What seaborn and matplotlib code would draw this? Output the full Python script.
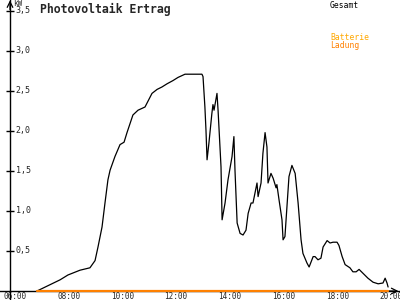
import matplotlib
matplotlib.use("Agg")
import matplotlib.pyplot as plt
import seaborn as sns
import pandas as pd

# --- data -------------------------------------------------------------
pv_hours = [6.82, 7.68, 7.97, 8.42, 8.79, 8.98, 9.09, 9.24, 9.35, 9.46,
            9.54, 9.72, 9.91, 10.06, 10.17, 10.39, 10.58, 10.84, 11.10, 11.29,
            11.47, 11.66, 11.88, 12.07, 12.33, 12.59, 12.89, 12.96, 13.00, 13.07,
            13.11, 13.15, 13.22, 13.33, 13.37, 13.41, 13.52, 13.56, 13.67, 13.71,
            13.82, 13.93, 14.08, 14.15, 14.19, 14.27, 14.38, 14.49, 14.60, 14.68,
            14.79, 14.86, 15.01, 15.05, 15.16, 15.23, 15.31, 15.38, 15.42, 15.53,
            15.61, 15.72, 15.75, 15.83, 15.94, 15.98, 16.05, 16.13, 16.20, 16.31,
            16.43, 16.54, 16.65, 16.72, 16.87, 16.95, 17.10, 17.17, 17.28, 17.39,
            17.47, 17.62, 17.73, 17.84, 17.99, 18.06, 18.18, 18.29, 18.47, 18.58,
            18.70, 18.81, 18.96, 19.14, 19.33, 19.52, 19.70, 19.78, 19.85, 19.89]
pv_kw = [0.00, 0.14, 0.20, 0.26, 0.29, 0.38, 0.55, 0.80, 1.10, 1.39,
         1.51, 1.68, 1.83, 1.86, 1.98, 2.20, 2.26, 2.30, 2.47, 2.52,
         2.55, 2.59, 2.63, 2.67, 2.71, 2.71, 2.71, 2.71, 2.68, 2.30,
         2.01, 1.64, 1.85, 2.22, 2.33, 2.26, 2.47, 2.26, 1.55, 0.89,
         1.10, 1.39, 1.68, 1.93, 1.51, 0.85, 0.72, 0.70, 0.76, 0.97,
         1.10, 1.10, 1.35, 1.18, 1.35, 1.72, 1.98, 1.80, 1.35, 1.47,
         1.41, 1.29, 1.33, 1.14, 0.89, 0.64, 0.68, 1.08, 1.43, 1.57,
         1.47, 1.10, 0.64, 0.47, 0.35, 0.30, 0.43, 0.43, 0.39, 0.41,
         0.55, 0.63, 0.60, 0.61, 0.61, 0.57, 0.43, 0.33, 0.29, 0.24,
         0.24, 0.27, 0.22, 0.16, 0.11, 0.09, 0.10, 0.16, 0.10, 0.05]
battery_hours = [6.82, 19.89]
battery_kw = [0.0, 0.0]

x_ticks = [6, 8, 10, 12, 14, 16, 18, 20]
x_tick_labels = ["06:00", "08:00", "10:00", "12:00", "14:00", "16:00", "18:00", "20:00"]
y_ticks = [0.5, 1.0, 1.5, 2.0, 2.5, 3.0, 3.5]
y_tick_labels = ["0,5", "1,0", "1,5", "2,0", "2,5", "3,0", "3,5"]

title = "Photovoltaik Ertrag"
unit = "kW"
legend_total = "Gesamt"
legend_batt1 = "Batterie"
legend_batt2 = "Ladung"

# --- style ------------------------------------------------------------
sns.set_style("white")
plt.rcParams["font.family"] = ["DejaVu Sans Mono", "DejaVu Sans"]
MONO = "DejaVu Sans Mono"
ORANGE = "#FF8000"
ORANGE_LIGHT = "#FFA800"

fig = plt.figure(figsize=(4, 3), dpi=100)
ax = fig.add_axes([0, 0, 1, 1])

pv = pd.DataFrame({"h": pv_hours, "kw": pv_kw})
bat = pd.DataFrame({"h": battery_hours, "kw": battery_kw})

sns.lineplot(data=pv, x="h", y="kw", ax=ax, color="black", lw=0.9, zorder=3)
sns.lineplot(data=bat, x="h", y="kw", ax=ax, color=ORANGE, lw=1.6, zorder=4)

# pixel geometry: 26.86 px per hour (06:00 at px 15), 80 px per kW (0 at px 291)
ax.set_xlim(6 - 15 / 26.86, 6 + 385 / 26.86)
ax.set_ylim(-9 / 80, 291 / 80)
y_axis_x = 6 - 5 / 26.86

for s in ["left", "top"]:
    ax.spines[s].set_visible(False)
ax.spines["right"].set_position(("data", y_axis_x))
ax.spines["bottom"].set_position(("data", 0))
for s in ["right", "bottom"]:
    ax.spines[s].set_color("black")
    ax.spines[s].set_linewidth(1.0)
ax.yaxis.tick_right()

ax.set_xticks(x_ticks)
ax.set_xticklabels(x_tick_labels, fontfamily=MONO, fontsize=5.5)
ax.set_yticks(y_ticks)
ax.set_yticklabels(y_tick_labels, fontfamily=MONO, fontsize=6)
ax.tick_params(axis="y", direction="inout", length=6, width=1, color="black", pad=1)
ax.tick_params(axis="x", direction="inout", length=5, width=1, color="black", pad=-2)
for lab in ax.get_yticklabels():
    lab.set_verticalalignment("center")
ax.set_xlabel("")
ax.set_ylabel("")
ax.grid(False)

# axis arrows
ymax = ax.get_ylim()[1]
xmax = ax.get_xlim()[1]
ax.annotate("", xy=(y_axis_x, ymax - 0.005), xytext=(y_axis_x, ymax - 0.12),
            arrowprops=dict(arrowstyle="->", lw=0.9, color="black", shrinkA=0, shrinkB=0))
ax.annotate("", xy=(xmax - 0.06, 0), xytext=(xmax - 0.4, 0),
            arrowprops=dict(arrowstyle="->", lw=0.9, color="black", shrinkA=0, shrinkB=0))

# texts
fig.text(13 / 400, 1 - 4 / 300, unit, fontfamily=MONO, fontsize=5.5, va="center", ha="left")
fig.text(40 / 400, 1 - 9 / 300, title, fontfamily=MONO, fontsize=8.3, fontweight="bold",
         va="center", ha="left")
fig.text(330 / 400, 1 - 5 / 300, legend_total, fontfamily=MONO, fontsize=5.8, va="center",
         ha="left", color="black")
fig.text(330 / 400, 1 - 37 / 300, legend_batt1, fontfamily=MONO, fontsize=5.8, va="center",
         ha="left", color=ORANGE_LIGHT)
fig.text(330 / 400, 1 - 45 / 300, legend_batt2, fontfamily=MONO, fontsize=5.8, va="center",
         ha="left", color=ORANGE)

fig.savefig("out.png", dpi=100)
